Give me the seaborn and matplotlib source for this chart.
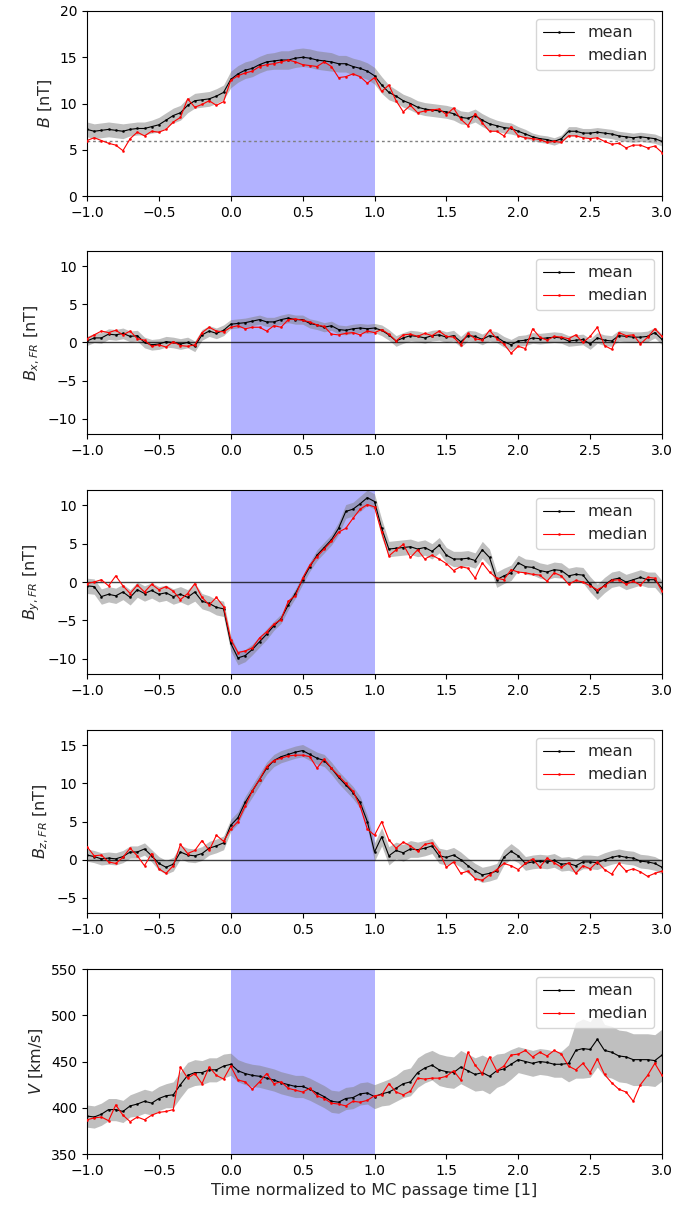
import numpy as np
import pandas as pd
import matplotlib
matplotlib.use("Agg")
import matplotlib.pyplot as plt
import seaborn as sns

# time grid normalized to MC passage time
t = np.linspace(-1.0, 3.0, 81)

B_mean = [7.2,7.0,7.1,7.2,7.1,7.0,7.2,7.3,7.3,7.5,
          7.7,8.2,8.7,9.0,9.8,10.3,10.4,10.5,10.8,11.2,
          12.6,13.2,13.6,13.8,14.2,14.5,14.6,14.7,14.7,14.9,
          15.0,14.9,14.7,14.6,14.5,14.3,14.3,14.0,13.8,13.5,
          13.0,12.0,11.2,10.8,10.3,10.0,9.6,9.4,9.3,9.2,
          9.1,8.9,8.5,8.4,8.7,8.2,7.8,7.6,7.4,7.3,
          7.0,6.7,6.4,6.2,6.1,5.9,6.2,7.0,7.0,6.8,
          6.8,6.9,6.8,6.7,6.5,6.4,6.3,6.4,6.3,6.2,
          5.9]
B_median = [6.0,6.3,6.0,5.7,5.5,4.9,6.2,6.9,6.5,7.0,
            6.9,7.2,8.0,8.5,10.5,9.6,9.9,10.3,9.8,10.2,
            12.5,13.0,13.3,13.5,14.0,14.2,14.3,14.5,14.7,14.5,
            14.2,14.1,14.0,14.5,14.0,12.8,12.9,13.2,12.9,12.2,
            12.8,11.3,12.0,10.3,9.1,9.8,9.0,9.2,9.3,9.4,
            8.8,9.5,8.3,7.6,8.9,7.9,7.0,7.0,6.5,7.5,
            6.5,6.3,6.2,6.1,5.8,5.9,5.8,6.5,6.5,6.3,
            6.2,6.3,5.9,5.6,5.7,5.2,5.5,5.5,5.2,5.4,
            4.7]
B_std = [0.8,0.8,0.8,0.8,0.8,0.8,0.7,0.7,0.7,0.7,
         0.8,0.8,0.8,0.8,0.8,0.8,0.8,0.8,0.8,0.8,
         0.9,0.9,0.9,0.9,0.9,0.9,0.9,1.0,1.0,1.0,
         1.0,1.0,1.0,1.0,1.0,0.9,0.9,0.9,0.9,0.9,
         0.9,0.9,0.8,0.7,0.7,0.7,0.7,0.7,0.7,0.7,
         0.7,0.7,0.7,0.7,0.7,0.7,0.7,0.6,0.6,0.6,
         0.5,0.5,0.4,0.4,0.4,0.4,0.4,0.5,0.5,0.5,
         0.5,0.5,0.5,0.5,0.5,0.5,0.5,0.5,0.5,0.5,
         0.5]

Bx_mean = [0.2,0.6,0.6,1.1,1.0,1.2,0.8,0.9,0.0,-0.3,
           -0.2,0.1,0.0,-0.2,0.0,-0.5,1.0,1.5,1.2,1.6,
           2.4,2.5,2.6,2.8,3.0,2.7,2.7,3.0,3.2,3.0,
           3.0,2.5,2.3,2.0,2.2,1.7,1.6,1.8,1.9,1.8,
           1.9,1.6,1.0,0.2,0.6,0.9,0.8,0.6,0.9,1.0,
           0.7,0.9,0.1,0.9,0.8,0.4,0.9,0.7,0.1,-0.3,
           0.2,0.3,0.6,0.5,0.6,0.7,0.6,0.2,0.3,0.4,
           -0.2,0.6,0.3,0.2,0.9,0.8,0.7,0.7,0.8,1.3,
           0.4]
Bx_median = [0.5,1.0,1.5,1.3,1.6,1.0,1.5,0.5,0.3,-0.5,
             -0.3,-0.6,0.1,-0.4,-0.5,-0.3,1.3,2.0,1.5,1.4,
             2.0,2.2,1.8,2.0,2.0,1.5,2.2,2.0,3.0,3.1,
             2.9,2.7,2.3,2.1,1.1,1.0,1.2,1.3,1.0,1.5,
             1.3,1.7,1.1,0.2,1.0,1.1,0.8,1.2,0.9,1.5,
             0.8,0.7,-0.3,1.2,0.5,0.3,1.6,0.5,-0.2,-1.4,
             -0.5,-0.8,1.8,0.7,0.3,0.8,0.7,0.5,1.0,0.0,
             0.8,2.0,-0.4,-0.9,1.3,0.9,1.0,-0.2,0.7,1.8,
             0.8]
Bx_std = [0.6,0.6,0.7,0.7,0.7,0.7,0.7,0.7,0.7,0.7,
          0.7,0.7,0.7,0.7,0.7,0.7,0.7,0.7,0.7,0.7,
          0.6,0.6,0.6,0.6,0.6,0.6,0.6,0.6,0.6,0.6,
          0.6,0.6,0.6,0.6,0.6,0.6,0.6,0.6,0.6,0.6,
          0.6,0.7,0.7,0.7,0.7,0.7,0.7,0.7,0.7,0.7,
          0.7,0.7,0.7,0.7,0.7,0.7,0.7,0.7,0.7,0.7,
          0.7,0.7,0.7,0.7,0.7,0.7,0.7,0.7,0.7,0.7,
          0.7,0.7,0.7,0.7,0.7,0.7,0.7,0.7,0.7,0.7,
          0.7]

By_mean = [-0.5,-0.6,-1.9,-1.6,-1.8,-1.3,-2.0,-1.0,-1.5,-1.1,
           -1.6,-1.4,-1.9,-1.6,-2.0,-1.3,-2.5,-2.8,-3.3,-3.5,
           -8.0,-9.9,-9.6,-8.8,-7.8,-6.8,-5.7,-4.8,-3.0,-1.5,
           0.3,2.0,3.5,4.5,5.5,7.0,9.2,9.5,10.2,11.0,
           10.5,7.0,4.3,4.4,4.5,4.6,4.3,4.5,4.0,4.8,
           3.5,3.0,3.0,3.1,2.8,4.2,3.2,0.3,0.8,1.2,
           2.5,2.0,1.9,1.5,1.3,1.6,1.5,0.8,1.0,0.9,
           -0.3,-1.3,-0.4,0.3,0.5,0.0,0.3,0.6,0.3,0.3,
           -0.8]
By_median = [-0.2,0.0,0.3,-0.5,0.8,-0.5,-1.5,-0.4,-1.3,-0.3,
             -1.0,-0.6,-1.2,-2.3,-1.5,-0.2,-2.0,-3.0,-2.0,-3.2,
             -7.5,-9.2,-9.0,-8.6,-7.3,-6.5,-5.5,-4.9,-2.5,-1.8,
             0.5,2.2,3.3,4.3,5.3,6.5,7.0,8.3,9.5,10.1,
             9.8,6.5,3.4,4.2,4.9,3.2,4.2,3.0,3.5,3.0,
             2.4,1.5,2.0,1.8,0.5,2.5,1.3,0.5,0.3,1.6,
             1.3,1.2,1.0,0.9,0.1,1.2,0.8,-0.3,0.2,0.0,
             -0.5,-1.0,-0.5,0.2,0.3,-0.3,0.1,-0.4,0.6,0.5,
             -1.2]
By_std = [1.0,1.0,1.0,1.0,1.0,1.0,1.0,1.0,1.0,1.0,
          1.0,1.0,1.0,1.0,1.0,1.2,1.0,1.0,1.0,1.0,
          1.0,0.9,0.8,0.7,0.7,0.7,0.6,0.6,0.6,0.6,
          0.6,0.6,0.7,0.7,0.7,0.8,0.9,0.9,1.0,1.0,
          1.0,1.2,1.0,1.0,1.0,1.0,1.0,1.0,1.0,1.0,
          1.0,1.0,1.0,1.0,1.0,1.1,1.1,1.0,1.0,1.0,
          1.0,1.0,1.0,1.0,1.0,1.0,1.0,1.0,1.0,1.0,
          1.0,1.0,1.0,1.0,1.0,1.0,1.0,1.0,1.0,1.0,
          1.0]

Bz_mean = [0.6,0.4,0.1,0.2,0.1,0.4,1.0,1.0,1.4,0.5,
           -0.5,-1.0,-0.6,1.0,0.6,0.5,0.8,1.5,1.8,2.2,
           4.5,5.5,7.5,9.0,10.5,12.0,13.0,13.5,13.8,14.1,
           14.3,13.8,13.3,13.0,12.0,10.8,9.8,8.8,7.5,5.0,
           1.0,3.0,0.5,1.2,0.9,1.4,1.3,1.5,1.8,0.5,
           0.3,0.6,0.0,-0.8,-1.5,-2.0,-1.8,-1.5,0.3,1.1,
           0.5,-0.5,-0.3,-0.2,-0.3,-0.1,-0.6,-0.5,-0.8,-0.3,
           -0.3,-0.4,0.0,0.3,0.5,0.3,0.2,-0.2,-0.3,-0.5,
           -1.0]
Bz_median = [1.7,0.5,0.6,-0.3,-0.5,0.3,1.5,0.5,-0.8,0.8,
             -1.2,-1.8,-0.8,2.0,0.8,1.2,2.5,1.2,3.2,2.4,
             4.0,5.0,7.0,9.0,10.5,12.2,13.0,13.3,13.6,13.7,
             13.7,13.5,12.0,13.2,12.0,11.0,10.0,9.0,7.0,4.0,
             3.2,5.0,2.6,1.5,2.3,1.8,1.1,2.0,2.2,1.0,
             -1.0,-0.3,-1.8,-1.5,-2.5,-2.7,-2.0,-1.3,-0.5,-0.8,
             -1.3,-0.5,0.1,-1.0,0.2,-0.4,-1.0,-0.4,-1.8,-0.8,
             -1.2,-0.3,-1.3,-1.9,-0.5,-1.5,-1.2,-1.6,-2.2,-1.8,
             -1.5]
Bz_std = [0.8,0.8,0.8,0.8,0.8,0.8,0.8,0.8,0.8,0.8,
          0.9,0.9,0.9,0.9,0.9,0.9,0.9,0.9,0.9,0.9,
          0.8,0.8,0.8,0.8,0.8,0.8,0.8,0.8,0.8,0.8,
          0.8,0.8,0.8,0.8,0.8,0.8,0.8,0.8,0.8,0.8,
          1.2,1.2,1.2,1.1,1.1,1.1,1.0,1.0,1.0,1.0,
          1.0,1.0,1.0,1.0,1.0,1.0,1.0,1.0,1.0,1.0,
          0.9,0.9,0.9,0.9,0.9,0.9,0.9,0.9,0.9,0.9,
          0.9,0.9,0.9,0.9,0.9,0.9,0.9,0.9,0.9,0.9,
          0.9]

V_mean = [391,390,393,398,398,396,402,404,407,405,
          410,413,414,425,435,438,438,441,441,445,
          447,440,437,435,434,432,430,427,425,423,
          423,420,416,412,407,406,410,411,415,416,
          412,415,417,421,426,428,438,443,446,441,
          439,438,444,440,436,438,434,440,442,447,
          452,450,448,450,449,447,447,448,462,464,
          463,474,462,460,456,455,452,452,452,451,
          457]
V_median = [387,389,390,386,403,392,385,390,387,392,
            395,396,398,444,432,437,426,444,435,431,
            445,430,428,420,428,437,426,428,421,419,
            417,421,413,410,405,404,402,407,406,408,
            413,414,426,417,414,418,432,431,432,432,
            434,440,430,460,446,437,455,440,445,457,
            458,462,455,460,456,462,458,445,441,448,
            438,453,436,427,420,417,407,425,435,448,
            435]
V_std = [12,12,12,12,12,12,12,13,13,13,
         13,13,14,14,14,14,13,13,13,13,
         12,12,12,12,12,12,12,12,12,12,
         12,12,12,12,12,12,12,12,12,12,
         13,13,14,14,15,15,16,16,16,17,
         17,17,18,18,18,19,19,18,17,16,
         14,14,14,14,14,14,14,20,30,32,
         30,30,28,28,28,28,28,28,28,28,
         28]

panels = [
    ("$B$ [nT]", B_mean, B_median, B_std, (0, 20), [0, 5, 10, 15, 20], ("dot", 6)),
    ("$B_{x,FR}$ [nT]", Bx_mean, Bx_median, Bx_std, (-12, 12), [-10, -5, 0, 5, 10], ("zero", 0)),
    ("$B_{y,FR}$ [nT]", By_mean, By_median, By_std, (-12, 12), [-10, -5, 0, 5, 10], ("zero", 0)),
    ("$B_{z,FR}$ [nT]", Bz_mean, Bz_median, Bz_std, (-7, 17), [-5, 0, 5, 10, 15], ("zero", 0)),
    ("$V$ [km/s]", V_mean, V_median, V_std, (350, 550), [350, 400, 450, 500, 550], None),
]

sns.set_style("ticks")
plt.rcParams.update({
    "font.family": ["DejaVu Sans"],
    "font.size": 10,
    "axes.labelsize": 11.5,
    "xtick.labelsize": 10,
    "ytick.labelsize": 10,
    "legend.fontsize": 11.5,
    "axes.edgecolor": "black",
    "axes.linewidth": 0.8,
    "xtick.color": "black",
    "ytick.color": "black",
    "xtick.major.size": 3.5,
    "ytick.major.size": 3.5,
    "xtick.direction": "out",
    "ytick.direction": "out",
})

fig = plt.figure(figsize=(6.78, 12.12), dpi=100)
W, H = 678.0, 1212.0
tops = [11, 251, 490, 730, 969]
bots = [196, 434, 674, 913, 1154]
left, right = 87, 662

for i, (ylabel, mean, median, std, ylim, yticks, ref) in enumerate(panels):
    ax = fig.add_axes([left / W, 1 - bots[i] / H, (right - left) / W, (bots[i] - tops[i]) / H])
    mean = np.asarray(mean, float)
    median = np.asarray(median, float)
    std = np.asarray(std, float)
    ax.axvspan(0, 1, color="blue", alpha=0.3, lw=0, zorder=0)
    ax.fill_between(t, mean - std, mean + std, color="gray", alpha=0.5, lw=0, zorder=1)
    if ref is not None:
        if ref[0] == "dot":
            ax.axhline(ref[1], color="gray", ls=(0, (2, 2)), lw=1.0, zorder=2)
        else:
            ax.axhline(ref[1], color="black", lw=1.0, alpha=0.75, zorder=2)
    df = pd.DataFrame({"t": t, "mean": mean, "median": median})
    sns.lineplot(data=df, x="t", y="mean", ax=ax, color="black", lw=0.8,
                 marker=".", markersize=3, markeredgecolor="black", markeredgewidth=0.3,
                 label="mean", zorder=3)
    sns.lineplot(data=df, x="t", y="median", ax=ax, color="red", lw=0.8,
                 marker=".", markersize=3, markeredgecolor="red", markeredgewidth=0.3,
                 label="median", zorder=4)
    ax.set_xlim(-1, 3)
    ax.set_ylim(*ylim)
    ax.set_yticks(yticks)
    ax.set_xticks([-1.0, -0.5, 0.0, 0.5, 1.0, 1.5, 2.0, 2.5, 3.0])
    ax.set_xticklabels(["\u22121.0", "\u22120.5", "0.0", "0.5", "1.0", "1.5", "2.0", "2.5", "3.0"])
    ax.set_ylabel(ylabel)
    if i == 4:
        ax.set_xlabel("Time normalized to MC passage time [1]")
    else:
        ax.set_xlabel("")
    ax.legend(loc="upper right", frameon=True, fancybox=True, framealpha=0.8,
              edgecolor="0.8", handlelength=2.0)

fig.savefig("out.png", dpi=100)
